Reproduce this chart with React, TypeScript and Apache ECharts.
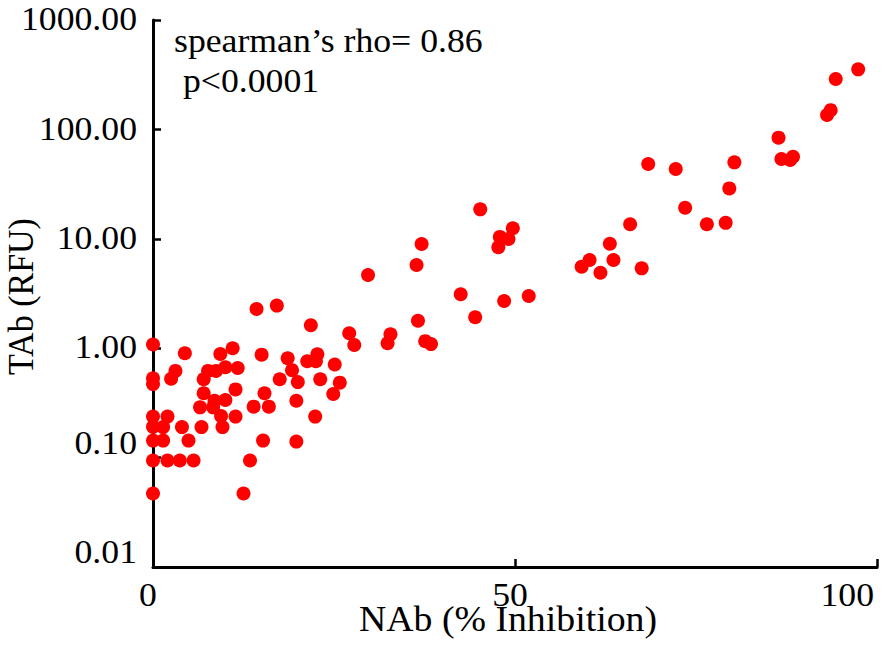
import React, { useEffect, useRef } from "react";
import * as echarts from "echarts";

// NAb (% Inhibition) values
const nab: number[] = [
  0, 0, 0, 0, 0, 0, 0, 0,
  1.4, 2.0, 1.4, 2.0, 2.5, 3.1, 4.4, 4.0, 4.9, 3.7,
  5.6, 7.0, 7.6, 8.7, 9.3, 11.0, 10.0, 11.7, 7.0, 11.4,
  8.5, 10.0, 6.5, 8.3, 9.4, 11.4, 6.7, 9.6, 15.0, 15.4,
  13.9, 16.0, 15.2, 13.4, 12.5, 14.3, 17.1, 21.8, 27.1, 27.8,
  18.6, 21.3, 22.7, 22.5, 25.1, 19.2, 17.5, 20.0, 23.1, 25.8,
  24.9, 19.8, 22.4, 19.8,
  45.2, 49.7, 47.9, 49.1, 47.7, 37.1, 36.4, 29.7, 42.5, 48.5, 51.9, 44.5, 36.6, 32.8, 32.4, 37.6, 38.4,
  68.4, 72.2, 80.3, 79.6, 73.5, 76.5, 79.1, 65.9, 63.1, 60.3, 59.2, 63.6, 61.8, 67.5,
  97.4, 94.3, 93.6, 93.1, 86.4, 86.8, 88.0, 88.4,
];

// TAb (RFU) values
const tab: number[] = [
  1.08, 0.53, 0.47, 0.237, 0.191, 0.143, 0.094, 0.047,
  0.19, 0.237, 0.143, 0.094, 0.526, 0.62, 0.9, 0.19, 0.143, 0.094,
  0.094, 0.52, 0.62, 0.62, 0.885, 1.0, 0.67, 0.66, 0.387, 0.42,
  0.331, 0.336, 0.288, 0.288, 0.24, 0.237, 0.19, 0.19, 0.873, 0.387,
  0.292, 0.292, 0.143, 0.094, 0.047, 2.28, 2.45, 1.62, 1.37, 1.07,
  0.81, 0.76, 0.88, 0.76, 0.71, 0.63, 0.52, 0.49, 0.52, 0.484,
  0.381, 0.331, 0.237, 0.14,
  18.6, 12.5, 10.4, 9.95, 8.36, 8.96, 5.76, 4.67, 3.11, 2.7, 3.0, 1.92, 1.78, 1.34, 1.11, 1.16, 1.09,
  48.3, 43.5, 50.0, 28.9, 19.2, 13.6, 14.0, 13.6, 9.02, 6.4, 5.56, 6.4, 4.9, 5.37,
  354, 289, 150, 135.5, 84, 53.6, 52.5, 56.3,
];

const xTickValues: number[] = [0, 50, 100];
const yTickValues: number[] = [0.01, 0.1, 1, 10, 100, 1000];
const annotationLines: string[] = ["spearman\u2019s rho= 0.86", " p<0.0001"];
const xName = "NAb (% Inhibition)";
const yName = "TAb (RFU)";

const FAMILY = `"Liberation Serif", "Times New Roman", serif`;

export default function App() {
  const ref = useRef<HTMLDivElement>(null);

  useEffect(() => {
    document.body.style.margin = "0";
    const chart = echarts.init(ref.current!, undefined, { renderer: "svg" });
    const data = nab.map((x, i) => [x, tab[i]]);
    const xMin = xTickValues[0];
    const xMax = xTickValues[xTickValues.length - 1];
    const yMin = yTickValues[0];
    const yMax = yTickValues[yTickValues.length - 1];

    chart.setOption({
      animation: false,
      backgroundColor: "#ffffff",
      grid: {
        left: 153,
        right: 9,
        top: 20,
        bottom: 85,
        containLabel: false,
        outerBoundsMode: "none",
      },
      xAxis: {
        type: "value",
        min: xMin,
        max: xMax,
        interval: xTickValues[1] - xTickValues[0],
        axisLine: { show: true, onZero: false, lineStyle: { color: "#000", width: 3 } },
        axisTick: { show: true, inside: true, length: 8, lineStyle: { color: "#000", width: 2.5 } },
        axisLabel: { show: false },
        splitLine: { show: false },
      },
      yAxis: {
        type: "log",
        logBase: 10,
        min: yMin,
        max: yMax,
        axisLine: { show: true, onZero: false, lineStyle: { color: "#000", width: 3 } },
        axisTick: { show: true, inside: true, length: 8, lineStyle: { color: "#000", width: 2.5 } },
        axisLabel: { show: false },
        splitLine: { show: false },
      },
      series: [
        {
          type: "scatter",
          data,
          symbol: "circle",
          symbolSize: 14,
          itemStyle: { color: "#ff0000", opacity: 1 },
        },
      ],
    });

    // Tick labels and titles as serif text at the axes' own tick positions
    const toPx = (x: number, y: number) =>
      chart.convertToPixel({ xAxisIndex: 0, yAxisIndex: 0 }, [x, y]) as number[];
    const font34 = `34px ${FAMILY}`;
    const graphics: any[] = [];

    yTickValues.forEach((v) => {
      const p = toPx(xMin, v);
      graphics.push({
        type: "text",
        x: p[0] - 16,
        y: p[1] + (v < 0.5 ? -15 : -1),
        scaleX: 1.05,
        silent: true,
        style: {
          text: v.toFixed(2),
          font: font34,
          fill: "#000",
          align: "right",
          verticalAlign: "middle",
        },
      });
    });

    xTickValues.forEach((v) => {
      const p = toPx(v, yMin);
      const last = v === xMax;
      graphics.push({
        type: "text",
        x: last ? p[0] - 3 : p[0] - 5,
        y: p[1] + 28,
        scaleX: 1.05,
        silent: true,
        style: {
          text: String(v),
          font: font34,
          fill: "#000",
          align: last ? "right" : "center",
          verticalAlign: "middle",
        },
      });
    });

    const xMid = toPx((xMin + xMax) / 2, yMin);
    graphics.push({
      type: "text",
      x: xMid[0] - 7,
      y: xMid[1] + 52,
      scaleX: 1.08,
      silent: true,
      style: {
        text: xName,
        font: `35px ${FAMILY}`,
        fill: "#000",
        align: "center",
        verticalAlign: "middle",
      },
    });

    const yMid = toPx(xMin, Math.sqrt(yMin * yMax));
    graphics.push({
      type: "text",
      x: 21,
      y: yMid[1] + 3,
      rotation: Math.PI / 2,
      scaleY: 1.05,
      silent: true,
      style: {
        text: yName,
        font: font34,
        fill: "#000",
        align: "center",
        verticalAlign: "middle",
      },
    });

    annotationLines.forEach((line, i) => {
      graphics.push({
        type: "text",
        x: 174,
        y: 41 + i * 39.5,
        scaleX: 1.05,
        silent: true,
        style: {
          text: line,
          font: font34,
          fill: "#000",
          align: "left",
          verticalAlign: "middle",
        },
      });
    });

    chart.setOption({ graphic: graphics });

    return () => chart.dispose();
  }, []);

  return (
    <div
      ref={ref}
      style={{ position: "absolute", left: 0, top: 0, width: 886, height: 652 }}
    />
  );
}
